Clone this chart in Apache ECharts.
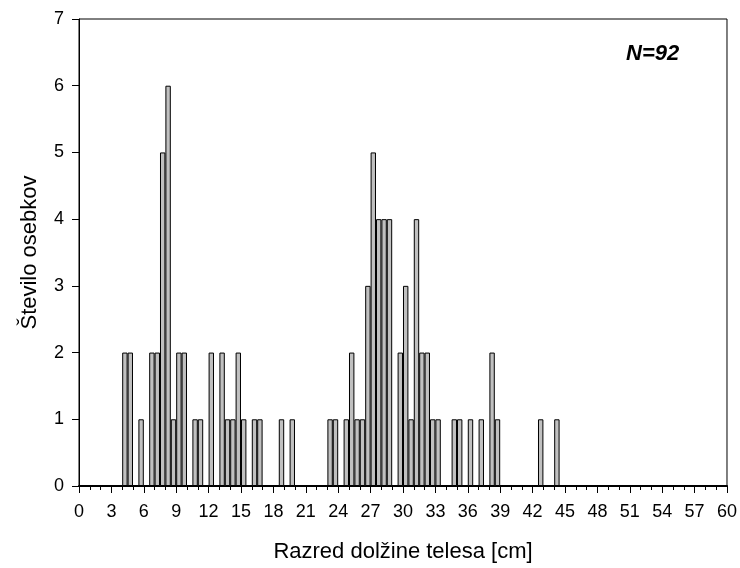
<!DOCTYPE html>
<html>
<head>
<meta charset="utf-8">
<script src="https://cdn.jsdelivr.net/npm/echarts@6/dist/echarts.min.js"></script>
<style>html,body{margin:0;padding:0;background:#fff}#c{width:740px;height:568px}</style>
</head>
<body>
<div id="c"></div>
<script>
// Bin start (cm) of each non-empty 0.5 cm class and its count
var binStarts = [4, 4.5, 5.5, 6.5, 7, 7.5, 8, 8.5, 9, 9.5, 10.5, 11, 12, 13, 13.5, 14, 14.5, 15, 16, 16.5,
  18.5, 19.5, 23, 23.5, 24.5, 25, 25.5, 26, 26.5, 27, 27.5, 28, 28.5, 29.5, 30, 30.5, 31, 31.5, 32, 32.5, 33,
  34.5, 35, 36, 37, 38, 38.5, 42.5, 44];
var counts = [2, 2, 1, 2, 2, 5, 6, 1, 2, 2, 1, 1, 2, 2, 1, 1, 2, 1, 1, 1,
  1, 1, 1, 1, 1, 2, 1, 1, 3, 5, 4, 4, 4, 2, 3, 1, 4, 2, 2, 1, 1,
  1, 1, 1, 1, 2, 1, 1, 1];
var xMin = 0, xMax = 60, binWidth = 0.5;
var yTicks = [0, 1, 2, 3, 4, 5, 6, 7];
var xTitle = 'Razred dolžine telesa [cm]';
var yTitle = 'Število osebkov';
var note = 'N=92';

var nBins = (xMax - xMin) / binWidth;
var cats = [], vals = [];
for (var i = 0; i < nBins; i++) { cats.push(String(xMin + i * binWidth)); vals.push(0); }
binStarts.forEach(function (b, k) { vals[Math.round((b - xMin) / binWidth)] = counts[k]; });

var font = "'Liberation Sans', Arial, Helvetica, sans-serif";
var chart = echarts.init(document.getElementById('c'));
chart.setOption({
  animation: false,
  grid: { left: 79, right: 12, top: 19, bottom: 81, show: true, borderColor: '#000', borderWidth: 1, backgroundColor: 'transparent' },
  xAxis: [{
    type: 'value', min: xMin, max: xMax, interval: 3,
    axisLine: { lineStyle: { color: '#000', width: 2 } },
    axisTick: { show: true, length: 7, lineStyle: { color: '#000' } },
    minorTick: { show: true, splitNumber: 3, length: 4, lineStyle: { color: '#000' } },
    splitLine: { show: false },
    axisLabel: { color: '#000', fontFamily: font, fontSize: 18, margin: 17 },
    name: xTitle, nameLocation: 'middle', nameGap: 55,
    nameTextStyle: { color: '#000', fontFamily: font, fontSize: 22 }
  }, {
    type: 'category', data: cats, show: false, boundaryGap: true
  }],
  yAxis: {
    type: 'value', min: yTicks[0], max: yTicks[yTicks.length - 1], interval: 1,
    axisLine: { show: true, lineStyle: { color: '#000', width: 1 } },
    axisTick: { show: true, length: 7, lineStyle: { color: '#000' } },
    splitLine: { show: false },
    axisLabel: { color: '#000', fontFamily: font, fontSize: 18, margin: 15 },
    name: yTitle, nameLocation: 'middle', nameGap: 38,
    nameTextStyle: { color: '#000', fontFamily: font, fontSize: 22 }
  },
  series: [{
    type: 'bar', xAxisIndex: 1, data: vals, barWidth: '100%', barGap: '0%',
    itemStyle: { color: '#c0c0c0', borderColor: '#000', borderWidth: 1 }
  }],
  graphic: [{
    type: 'text', left: 626, top: 43,
    style: { text: note, fill: '#000', font: "italic bold 22px 'Liberation Sans', Arial, sans-serif" }
  }]
});
</script>
</body>
</html>
